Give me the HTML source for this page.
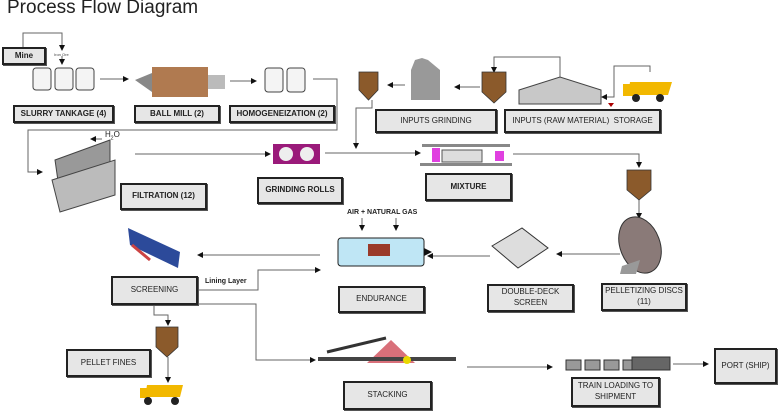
<!DOCTYPE html>
<html><head><meta charset="utf-8"><style>
body{margin:0;width:778px;height:411px;background:#fff;position:relative;overflow:hidden;font-family:"Liberation Sans",sans-serif}
.b{position:absolute;box-sizing:border-box;background:#e6e6e6;border:2px solid #222;box-shadow:1px 1px 0 #555;display:flex;align-items:center;justify-content:center;text-align:center;font-size:8px;font-weight:bold;color:#222;line-height:1.35}
.t{position:absolute;font-size:8px;font-weight:bold;color:#222;white-space:nowrap}
svg{position:absolute;left:0;top:0}
</style></head><body>
<div style="position:absolute;left:7px;top:-3px;font-size:19px;color:#222;">Process Flow Diagram</div>
<svg width="778" height="411" viewBox="0 0 778 411">
<defs><marker id="a" markerWidth="6" markerHeight="6" refX="5" refY="3" orient="auto"><path d="M0,0L6,3L0,6z" fill="#111"/></marker></defs>
<g fill="none" stroke="#666" stroke-width="1" marker-end="url(#a)">
<path d="M23,47V33H62V50"/>
<path d="M62,56V64"/>
<path d="M100,79H128"/>
<path d="M230,81H256"/>
<path d="M313,79H337V130H28V172H42"/>
<path d="M135,154H270"/>
<path d="M325,153H420"/>
<path d="M372,100V108H356V148"/>
<path d="M405,85H388"/>
<path d="M480,87H455"/>
<path d="M560,77V57H494V72"/>
<path d="M650,72V66H614V97H602"/>
<path d="M513,154H639V167"/>
<path d="M639,200V218"/>
<path d="M620,254H557"/>
<path d="M490,256H428"/>
<path d="M320,255H198"/>
<path d="M198,290H258V270H320"/>
<path d="M154,305V315H168V325"/>
<path d="M168,357V382"/>
<path d="M198,304H256V360H315"/>
<path d="M467,367H552"/>
<path d="M673,364H708"/>
<path d="M362,218V230"/>
<path d="M396,218V230"/>
<path d="M102,139H91"/>
</g>
<g stroke="#444" fill="#f4f4f4" stroke-width="1">
<rect x="33" y="68" width="18" height="22" rx="3"/><rect x="55" y="68" width="18" height="22" rx="3"/><rect x="76" y="68" width="18" height="22" rx="3"/>
<rect x="265" y="68" width="18" height="24" rx="3"/><rect x="287" y="68" width="18" height="24" rx="3"/>
</g>
<rect x="152" y="67" width="56" height="30" fill="#b07a50"/>
<path d="M135,80L152,73V92Z" fill="#888"/>
<rect x="208" y="75" width="17" height="14" fill="#bbb"/>
<g fill="#999" stroke="#444"><path d="M55,160L110,140V175L60,195Z"/><path d="M52,180L115,160V195L60,212Z" fill="#bbb"/></g>
<rect x="273" y="144" width="47" height="20" fill="#9a1a7a"/>
<circle cx="286" cy="154" r="7" fill="#eee"/><circle cx="307" cy="154" r="7" fill="#eee"/>
<g fill="#8b5a2b" stroke="#333" stroke-width=".8">
<path d="M359,72H378V90L368.5,100L359,90Z"/>
<path d="M482,72H506V92L494,103L482,92Z"/>
<path d="M627,170H651V190L639,200L627,190Z"/>
<path d="M156,327H178V347L167,357L156,347Z"/>
</g>
<path d="M415,60L422,58L428,60L440,70V100H411V70Z" fill="#999"/>
<path d="M519,90L560,77L601,90V104H519Z" fill="#c8c8c8" stroke="#444"/>
<path d="M608,103L614,103L611,107Z" fill="#a00"/>
<g fill="#f2b800"><path d="M630,82H672L668,95H628Z"/><rect x="623" y="84" width="12" height="12"/></g>
<g fill="#222"><circle cx="636" cy="98" r="4"/><circle cx="660" cy="98" r="4"/></g>
<g fill="#f2b800"><path d="M147,385H183L180,397H145Z"/><rect x="140" y="388" width="10" height="10"/></g>
<g fill="#222"><circle cx="148" cy="401" r="4"/><circle cx="175" cy="401" r="4"/></g>
<rect x="422" y="144" width="88" height="3" fill="#888"/>
<rect x="432" y="148" width="8" height="14" fill="#e040e0"/><rect x="442" y="150" width="40" height="12" fill="#ddd" stroke="#555"/><rect x="495" y="151" width="9" height="10" fill="#e040e0"/>
<rect x="420" y="163" width="92" height="3" fill="#888"/>
<path d="M128,228L180,252L178,268L130,245Z" fill="#2c4a9a"/><path d="M132,245L150,260" stroke="#c44" stroke-width="3"/>
<rect x="338" y="238" width="86" height="28" rx="3" fill="#bfe6f5" stroke="#222"/>
<rect x="368" y="244" width="22" height="12" fill="#9a3a2a"/>
<path d="M424,248L432,252L424,256Z" fill="#111"/>
<path d="M492,246L522,228L548,248L518,268Z" fill="#ddd" stroke="#333"/>
<ellipse cx="640" cy="245" rx="20" ry="29" transform="rotate(-20 640 245)" fill="#8a7a78" stroke="#333"/>
<path d="M622,266L640,260L636,274H620Z" fill="#999"/>
<path d="M367,363L391,340L415,363Z" fill="#d9707a"/>
<rect x="318" y="357" width="138" height="4" fill="#444"/><path d="M327,352L386,338" stroke="#333" stroke-width="3"/>
<circle cx="407" cy="360" r="4" fill="#e8d800"/>
<g fill="#999" stroke="#333"><rect x="566" y="360" width="15" height="10"/><rect x="585" y="360" width="15" height="10"/><rect x="604" y="360" width="15" height="10"/><rect x="623" y="360" width="15" height="10"/><rect x="632" y="357" width="38" height="13" fill="#666"/></g>
<text x="54" y="56" font-size="4" fill="#444" font-family="Liberation Sans">Iron Ore</text>
</svg>
<div class="b" style="left:2px;top:47px;width:44px;height:18px">Mine</div>
<div class="b" style="left:13px;top:105px;width:101px;height:18px">SLURRY TANKAGE (4)</div>
<div class="b" style="left:134px;top:105px;width:86px;height:18px">BALL MILL (2)</div>
<div class="b" style="left:229px;top:105px;width:106px;height:18px">HOMOGENEIZATION (2)</div>
<div class="b" style="left:375px;top:109px;width:122px;height:24px;font-weight:normal">INPUTS GRINDING</div>
<div class="b" style="left:504px;top:109px;width:157px;height:24px;font-weight:normal">INPUTS (RAW MATERIAL)&nbsp; STORAGE</div>
<div class="b" style="left:120px;top:183px;width:87px;height:27px">FILTRATION (12)</div>
<div class="b" style="left:257px;top:177px;width:86px;height:27px">GRINDING ROLLS</div>
<div class="b" style="left:425px;top:173px;width:87px;height:28px">MIXTURE</div>
<div class="b" style="left:111px;top:276px;width:87px;height:29px;font-weight:normal">SCREENING</div>
<div class="b" style="left:338px;top:286px;width:87px;height:27px;font-weight:normal">ENDURANCE</div>
<div class="b" style="left:487px;top:284px;width:87px;height:28px;font-weight:normal">DOUBLE-DECK<br>SCREEN</div>
<div class="b" style="left:601px;top:283px;width:86px;height:28px;font-weight:normal">PELLETIZING DISCS<br>(11)</div>
<div class="b" style="left:66px;top:349px;width:85px;height:28px;font-weight:normal">PELLET FINES</div>
<div class="b" style="left:343px;top:381px;width:89px;height:29px;font-weight:normal">STACKING</div>
<div class="b" style="left:571px;top:377px;width:89px;height:30px;font-weight:normal">TRAIN LOADING TO<br>SHIPMENT</div>
<div class="b" style="left:714px;top:348px;width:63px;height:36px;font-weight:normal">PORT (SHIP)</div>
<div class="t" style="left:347px;top:209px;font-size:7px">AIR + NATURAL GAS</div>
<div class="t" style="left:205px;top:278px;font-size:7px">Lining Layer</div>
<div class="t" style="left:105px;top:130px;font-weight:normal;font-size:8px">H<sub style="font-size:5px">2</sub>O</div>
</body></html>
